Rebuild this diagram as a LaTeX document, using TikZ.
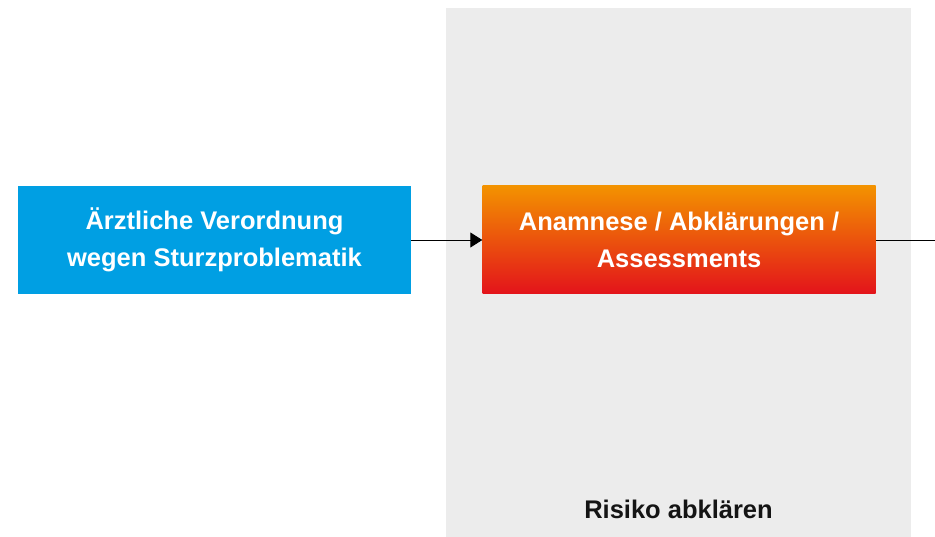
\documentclass[tikz,border=0pt]{standalone}
\usepackage{fontspec}
\setmainfont{Liberation Sans}
\usetikzlibrary{arrows.meta}
\definecolor{stepblue}{HTML}{009FE3}
\definecolor{steporange}{HTML}{F39200}
\definecolor{stepred}{HTML}{E3131B}
\definecolor{panelgrey}{HTML}{ECECEC}
\definecolor{labeltext}{HTML}{141414}
\tikzset{
  stepbox/.style={minimum width=393pt, minimum height=108pt, inner sep=0pt,
    align=center, text=white, font=\fontsize{25.5}{37}\selectfont\bfseries},
  flow/.style={draw=black, line width=0.9pt},
}
\begin{document}
\begin{tikzpicture}[x=1pt,y=-1pt]
  \useasboundingbox (0,0) rectangle (935,537);
  \fill[white] (0,0) rectangle (935,537);
  % phase panel
  \node[fill=panelgrey, minimum width=465pt, minimum height=529pt, inner sep=0pt, anchor=north west]
    (panel) at (446,8) {};
  \node[text=labeltext, font=\fontsize{25.5}{30}\selectfont\bfseries, anchor=base]
    (phase) at (678.5,518) {Risiko abklären};
  % steps
  \node[stepbox, fill=stepblue] (order) at (214.5,240)
    {Ärztliche Verordnung\\wegen Sturzproblematik};
  \node[stepbox, top color=steporange, bottom color=stepred] (assess) at (679,240)
    {Anamnese / Abklärungen /\\Assessments};
  \coordinate (next) at (935,240);
  \draw[flow, -{Triangle[length=12pt,width=15pt]}] (order.east) -- (assess.west);
  \draw[flow] (assess.east) -- (next);
\end{tikzpicture}
\end{document}
